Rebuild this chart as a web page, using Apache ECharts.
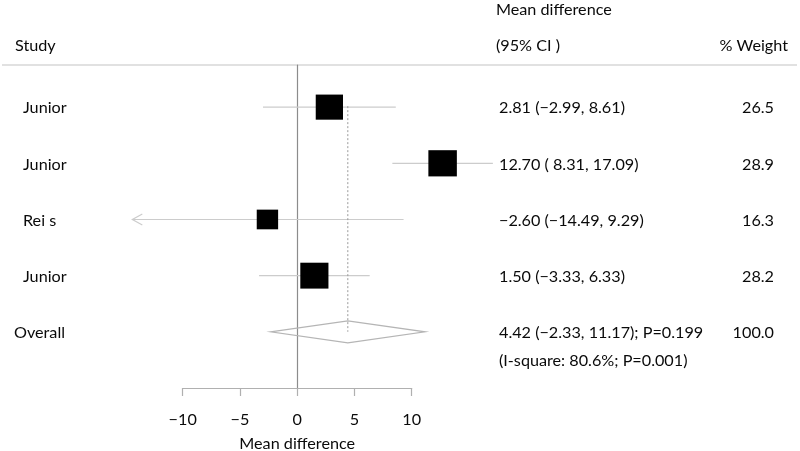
<!DOCTYPE html>
<html><head><meta charset="utf-8">
<script src="https://cdn.jsdelivr.net/npm/echarts@6/dist/echarts.min.js"></script>
<style>html,body{margin:0;padding:0;background:#fff}#c{width:800px;height:451px}</style>
</head><body><div id="c"></div>
<script>
// ---- data ----
const studies = ['Junior', 'Junior', 'Rei s', 'Junior'];
const estimates = [2.81, 12.70, -2.60, 1.50];
const lowerCI = [-2.99, 8.31, -14.49, -3.33];
const upperCI = [8.61, 17.09, 9.29, 6.33];
const weights = [26.5, 28.9, 16.3, 28.2];
const overallName = 'Overall';
const overallEst = [4.42];
const overallLo = [-2.33];
const overallHi = [11.17];
const overallP = ['0.199'];
const overallWeight = [100.0];
const iSquare = ['80.6%'];
const hetP = ['0.001'];
const xTicks = [-10, -5, 0, 5, 10];
const headers = ['Study', 'Mean difference', '(95% CI )', '% Weight'];
const xTitle = 'Mean difference';

// ---- helpers ----
const FONT = 'Lato, "Open Sans", sans-serif';
const FS = 16.2;
const TXT = '#0a0a0a';
const minus = s => String(s).replace(/-/g, '\u2212');
const f2 = v => minus(v.toFixed(2));
const fmtCI = (e, l, h) => f2(e) + ' (' + f2(l).padStart(5, ' ') + ', ' + f2(h) + ')';
const X_VIEW_MIN = -14.4;
const COL_NAME = 23, COL_EST = 499, COL_W = 774;

const studyData = studies.map((s, i) => [i, estimates[i], lowerCI[i], upperCI[i], weights[i]]);
const overallRow = studies.length;

function txt(x, y, s, align) {
  return {type: 'text', style: {text: s, x: x, y: y + 1, fill: TXT, fontSize: FS, fontFamily: FONT,
    align: align || 'left', verticalAlign: 'middle'}};
}

function renderStudy(params, api) {
  const i = api.value(0), est = api.value(1), lo = api.value(2), hi = api.value(3), w = api.value(4);
  const c = api.coord([est, i]);
  const clipLo = Math.max(lo, X_VIEW_MIN);
  const pl = api.coord([clipLo, i]);
  const ph = api.coord([hi, i]);
  const side = 5.3 * Math.sqrt(w);
  const ch = [
    {type: 'line', shape: {x1: pl[0], y1: c[1], x2: ph[0], y2: c[1]}, style: {stroke: '#cccccc', lineWidth: 1.2}},
  ];
  if (lo < X_VIEW_MIN) {
    ch.push({type: 'polyline', shape: {points: [[pl[0] + 10, c[1] - 5.5], [pl[0], c[1]], [pl[0] + 10, c[1] + 5.5]]},
      style: {stroke: '#cccccc', lineWidth: 1.2, fill: null}});
  }
  ch.push({type: 'rect', shape: {x: c[0] - side / 2, y: c[1] - side * 0.46, width: side, height: side * 0.92}, style: {fill: '#000'}});
  ch.push(txt(COL_NAME, c[1], studies[i]));
  ch.push(txt(COL_EST, c[1], fmtCI(est, lo, hi)));
  ch.push(txt(COL_W, c[1], w.toFixed(1), 'right'));
  return {type: 'group', children: ch};
}

function renderOverall(params, api) {
  const est = api.value(0), lo = api.value(1), hi = api.value(2);
  const r = overallRow;
  const c = api.coord([est, r]);
  const pl = api.coord([lo, r]);
  const ph = api.coord([hi, r]);
  const top = api.coord([est, 0]);
  const hh = 11;
  return {type: 'group', children: [
    {type: 'line', shape: {x1: c[0], y1: top[1] - 1, x2: c[0], y2: c[1]}, style: {stroke: '#9a9a9a', lineWidth: 1, lineDash: [2, 2]}},
    {type: 'polygon', shape: {points: [[pl[0], c[1]], [c[0], c[1] - hh], [ph[0], c[1]], [c[0], c[1] + hh]]},
      style: {stroke: '#b5b5b5', lineWidth: 1.2, fill: null}},
    txt(14, c[1], overallName),
    txt(COL_EST, c[1], fmtCI(est, lo, hi) + '; P=' + overallP[0]),
    txt(COL_EST, c[1] + 27.5, '(I-square: ' + iSquare[0] + '; P=' + hetP[0] + ')'),
    txt(COL_W, c[1], overallWeight[0].toFixed(1), 'right')
  ]};
}

const chart = echarts.init(document.getElementById('c'), null, {renderer: 'canvas'});
chart.setOption({
  animation: false,
  backgroundColor: '#fff',
  grid: {left: 182.7, right: 388.3, top: 65, bottom: 63, outerBoundsMode: 'none', containLabel: false},
  xAxis: {
    type: 'value', min: xTicks[0], max: xTicks[xTicks.length - 1], interval: 5,
    axisLine: {onZero: false, lineStyle: {color: '#b0b0b0', width: 1.2}},
    axisTick: {length: 8, lineStyle: {color: '#b0b0b0', width: 1.2}},
    axisLabel: {margin: 24, fontSize: FS, fontFamily: FONT, color: TXT, formatter: v => minus(v)},
    splitLine: {show: false},
    name: xTitle, nameLocation: 'middle', nameGap: 48,
    nameTextStyle: {fontSize: FS, fontFamily: FONT, color: TXT}
  },
  yAxis: {
    type: 'value', inverse: true, min: -0.75, max: 5,
    axisLine: {show: true, onZero: true, lineStyle: {color: '#8c8c8c', width: 1.2}},
    axisTick: {show: false}, axisLabel: {show: false}, splitLine: {show: false}
  },
  graphic: [
    {type: 'line', shape: {x1: 2, y1: 65, x2: 797, y2: 65}, style: {stroke: '#c4c4c4', lineWidth: 1.2}},
    {type: 'text', left: 15, top: 38, style: {text: headers[0], fontSize: FS, fontFamily: FONT, fill: TXT}},
    {type: 'text', left: 496, top: 2, style: {text: headers[1], fontSize: FS, fontFamily: FONT, fill: TXT}},
    {type: 'text', left: 496, top: 38, style: {text: headers[2], fontSize: FS, fontFamily: FONT, fill: TXT}},
    {type: 'text', right: 12, top: 38, style: {text: headers[3], fontSize: FS, fontFamily: FONT, fill: TXT}}
  ],
  series: [
    {type: 'custom', clip: false, renderItem: renderStudy, data: studyData, silent: true},
    {type: 'custom', clip: false, renderItem: renderOverall, data: [[overallEst[0], overallLo[0], overallHi[0]]], silent: true}
  ]
});
</script>
</body></html>
